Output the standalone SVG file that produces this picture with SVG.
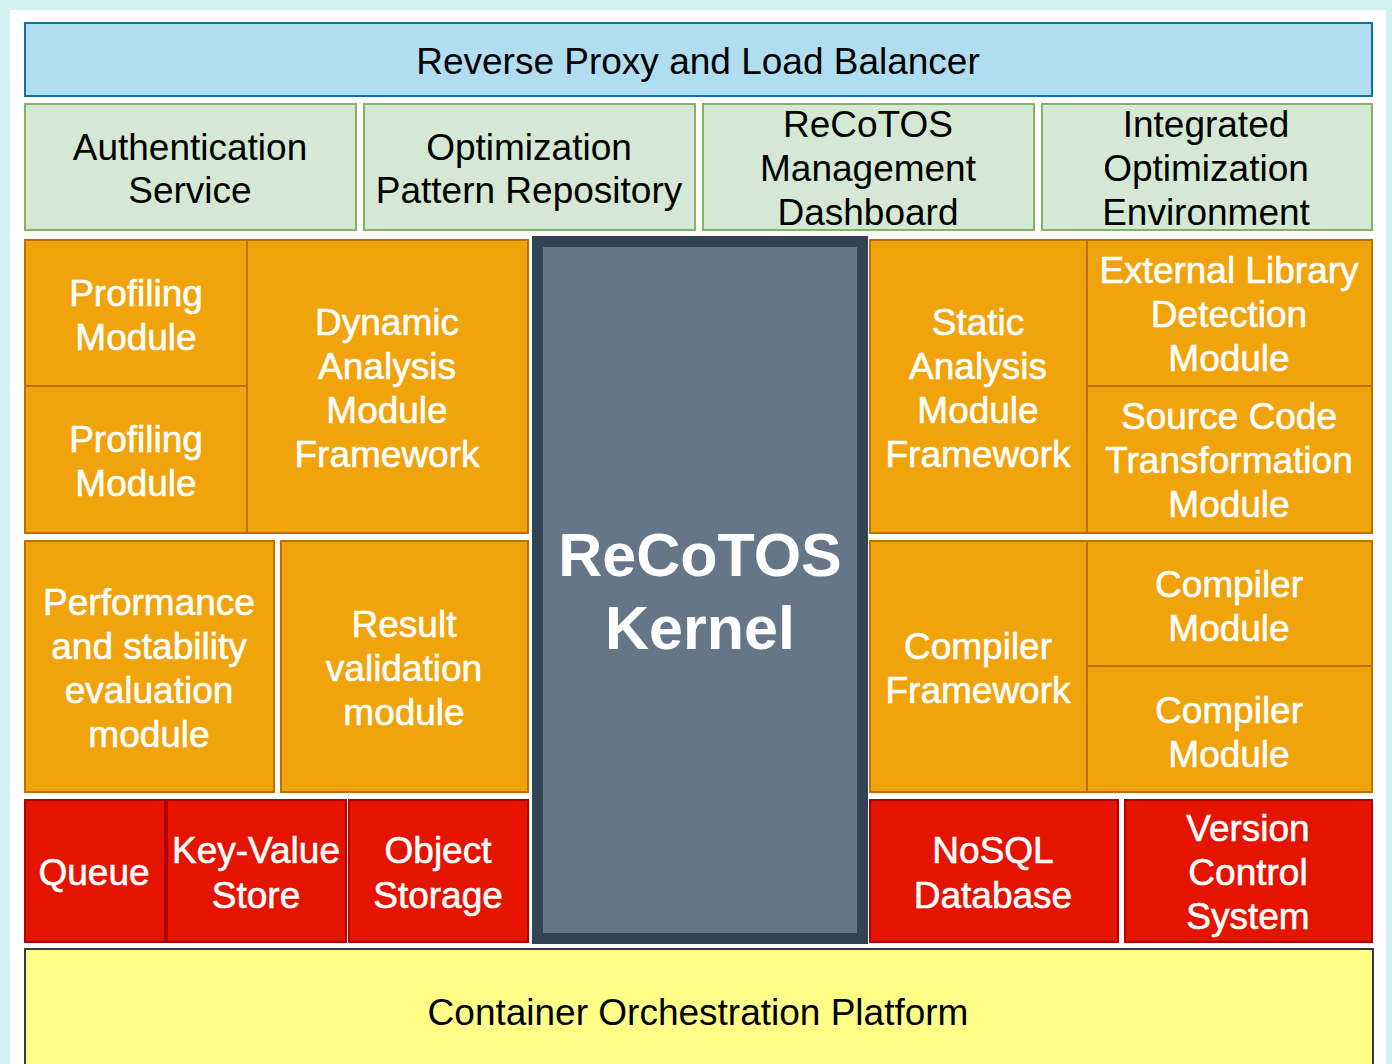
<svg xmlns="http://www.w3.org/2000/svg" width="1392" height="1064" viewBox="0 0 1392 1064">
<style>
text{font-family:"Liberation Sans",Arial,sans-serif;font-size:37px;text-anchor:middle}
.blue{fill:#b1ddf0;stroke:#10739e;stroke-width:2}
.green{fill:#d5e8d4;stroke:#82b366;stroke-width:2}
.orange{fill:#f0a30a;stroke:#bd7000;stroke-width:2}
.red{fill:#e51400;stroke:#b20000;stroke-width:2}
.yellow{fill:#ffff88;stroke:#36393d;stroke-width:2}
.kernel{fill:#647687;stroke:#314354;stroke-width:11}
.dk{fill:#000}
.wt{fill:#fff;stroke:#fff;stroke-width:0.6}
.kt{fill:#fff;font-weight:bold;font-size:61px}
</style>
<rect width="1392" height="1064" fill="#d3f0f0"/>
<rect x="10" y="10" width="1376" height="1054" fill="#fff"/>
<g id="reverse-proxy"><rect class="blue" x="25" y="23" width="1347" height="73"/><text class="dk" x="698" y="74">Reverse Proxy and Load Balancer</text></g>
<g id="auth"><rect class="green" x="25" y="104" width="331" height="126"/><text class="dk" x="190" y="160">Authentication</text><text class="dk" x="190" y="203">Service</text></g>
<g id="pattern-repo"><rect class="green" x="364" y="104" width="331" height="126"/><text class="dk" x="529" y="160">Optimization</text><text class="dk" x="529" y="203">Pattern Repository</text></g>
<g id="dashboard"><rect class="green" x="703" y="104" width="331" height="126"/><text class="dk" x="868" y="137">ReCoTOS</text><text class="dk" x="868" y="181">Management</text><text class="dk" x="868" y="225">Dashboard</text></g>
<g id="ide"><rect class="green" x="1042" y="104" width="330" height="126"/><text class="dk" x="1206" y="137">Integrated</text><text class="dk" x="1206" y="181">Optimization</text><text class="dk" x="1206" y="225">Environment</text></g>
<g id="profiling1"><rect class="orange" x="25" y="240" width="222" height="146"/><text class="wt" x="136" y="306">Profiling</text><text class="wt" x="136" y="350">Module</text></g>
<g id="profiling2"><rect class="orange" x="25" y="386" width="222" height="147"/><text class="wt" x="136" y="452">Profiling</text><text class="wt" x="136" y="496">Module</text></g>
<g id="dynamic"><rect class="orange" x="247" y="240" width="281" height="293"/><text class="wt" x="387" y="335">Dynamic</text><text class="wt" x="387" y="379">Analysis</text><text class="wt" x="387" y="423">Module</text><text class="wt" x="387" y="467">Framework</text></g>
<g id="performance"><rect class="orange" x="25" y="541" width="249" height="251"/><text class="wt" x="149" y="615">Performance</text><text class="wt" x="149" y="659">and stability</text><text class="wt" x="149" y="703">evaluation</text><text class="wt" x="149" y="747">module</text></g>
<g id="result"><rect class="orange" x="281" y="541" width="247" height="251"/><text class="wt" x="404" y="637">Result</text><text class="wt" x="404" y="681">validation</text><text class="wt" x="404" y="725">module</text></g>
<g id="kernel"><rect class="kernel" x="537.5" y="241.5" width="325" height="697"/><text class="kt" x="700" y="576">ReCoTOS</text><text class="kt" x="700" y="649">Kernel</text></g>
<g id="static"><rect class="orange" x="870" y="240" width="217" height="293"/><text class="wt" x="978" y="335">Static</text><text class="wt" x="978" y="379">Analysis</text><text class="wt" x="978" y="423">Module</text><text class="wt" x="978" y="467">Framework</text></g>
<g id="external-lib"><rect class="orange" x="1087" y="240" width="285" height="146"/><text class="wt" x="1229" y="283">External Library</text><text class="wt" x="1229" y="327">Detection</text><text class="wt" x="1229" y="371">Module</text></g>
<g id="source-transform"><rect class="orange" x="1087" y="386" width="285" height="147"/><text class="wt" x="1229" y="429">Source Code</text><text class="wt" x="1229" y="473">Transformation</text><text class="wt" x="1229" y="517">Module</text></g>
<g id="compiler-framework"><rect class="orange" x="870" y="541" width="217" height="251"/><text class="wt" x="978" y="659">Compiler</text><text class="wt" x="978" y="703">Framework</text></g>
<g id="compiler1"><rect class="orange" x="1087" y="541" width="285" height="125"/><text class="wt" x="1229" y="597">Compiler</text><text class="wt" x="1229" y="641">Module</text></g>
<g id="compiler2"><rect class="orange" x="1087" y="666" width="285" height="126"/><text class="wt" x="1229" y="723">Compiler</text><text class="wt" x="1229" y="767">Module</text></g>
<g id="queue"><rect class="red" x="25" y="800" width="140" height="142"/><text class="wt" x="94" y="885">Queue</text></g>
<g id="kv-store"><rect class="red" x="167" y="800" width="179" height="142"/><text class="wt" x="256" y="863">Key-Value</text><text class="wt" x="256" y="908">Store</text></g>
<g id="object-storage"><rect class="red" x="349" y="800" width="179" height="142"/><text class="wt" x="438" y="863">Object</text><text class="wt" x="438" y="908">Storage</text></g>
<g id="nosql"><rect class="red" x="870" y="800" width="248" height="142"/><text class="wt" x="993" y="863">NoSQL</text><text class="wt" x="993" y="908">Database</text></g>
<g id="vcs"><rect class="red" x="1125" y="800" width="247" height="142"/><text class="wt" x="1248" y="841">Version</text><text class="wt" x="1248" y="885">Control</text><text class="wt" x="1248" y="929">System</text></g>
<g id="container"><rect class="yellow" x="25" y="949" width="1348" height="130"/><text class="dk" x="698" y="1025">Container Orchestration Platform</text></g>
<g id="connectors"/>
</svg>
